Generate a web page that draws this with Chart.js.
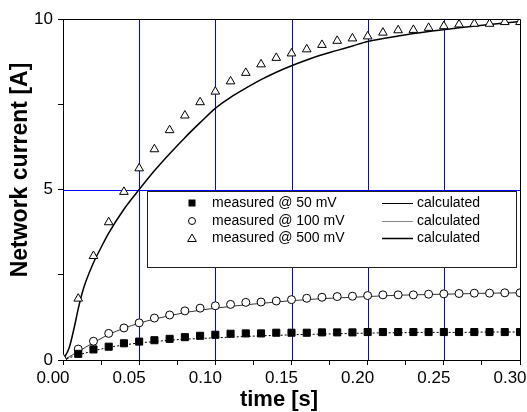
<!DOCTYPE html>
<html>
<head>
<meta charset="utf-8">
<script src="https://cdn.jsdelivr.net/npm/chart.js@4/dist/chart.umd.min.js"></script>
<style>
  html, body { margin: 0; padding: 0; background: #fff; }
  #wrap { width: 527px; height: 412px; position: relative; }
</style>
</head>
<body>
<div id="wrap"><canvas id="currentChart"></canvas></div>
<script>
// measured sample times [s]
const timeMeasured = [0.00, 0.01, 0.02, 0.03, 0.04, 0.05, 0.06, 0.07, 0.08, 0.09, 0.10,
    0.11, 0.12, 0.13, 0.14, 0.15, 0.16, 0.17, 0.18, 0.19, 0.20,
    0.21, 0.22, 0.23, 0.24, 0.25, 0.26, 0.27, 0.28, 0.29, 0.30];

const measured50 = [null, 0.18, 0.31, 0.39, 0.49, 0.54, 0.58, 0.62, 0.67, 0.71, 0.74,
    0.77, 0.78, 0.78, 0.80, 0.80, 0.80, 0.81, 0.81, 0.81, 0.82,
    0.82, 0.82, 0.82, 0.82, 0.82, 0.82, 0.82, 0.82, 0.82, 0.82];

const measured100 = [null, 0.32, 0.55, 0.78, 0.94, 1.09, 1.23, 1.32, 1.44, 1.52, 1.59,
    1.63, 1.69, 1.70, 1.73, 1.77, 1.81, 1.84, 1.86, 1.87, 1.89,
    1.91, 1.91, 1.91, 1.93, 1.94, 1.95, 1.96, 1.96, 1.97, 1.97];

const measured500 = [0.05, 1.80, 3.05, 4.04, 4.93, 5.62, 6.18, 6.74, 7.17, 7.56, 7.87,
    8.17, 8.42, 8.67, 8.86, 8.99, 9.11, 9.24, 9.36, 9.43, 9.49,
    9.60, 9.67, 9.68, 9.74, 9.79, 9.84, 9.86, 9.86, 9.91, 9.91];

// calculated curves
const timeCalc = [0, 0.004, 0.007, 0.010, 0.0125, 0.015, 0.020, 0.025, 0.030, 0.040, 0.050,
    0.060, 0.070, 0.080, 0.090, 0.100, 0.110, 0.120, 0.130, 0.140, 0.150,
    0.160, 0.170, 0.180, 0.190, 0.200, 0.220, 0.240, 0.260, 0.280, 0.300];

const calc50 = [0, 0.06, 0.11, 0.15, 0.18, 0.21, 0.27, 0.32, 0.37, 0.44, 0.50,
    0.54, 0.58, 0.61, 0.63, 0.65, 0.67, 0.69, 0.71, 0.72, 0.74,
    0.75, 0.76, 0.77, 0.78, 0.79, 0.80, 0.81, 0.81, 0.82, 0.82];

const calc100 = [0, 0.09, 0.17, 0.24, 0.31, 0.38, 0.51, 0.63, 0.75, 0.93, 1.08,
    1.20, 1.30, 1.39, 1.46, 1.52, 1.57, 1.62, 1.66, 1.70, 1.74,
    1.77, 1.80, 1.82, 1.84, 1.86, 1.90, 1.92, 1.94, 1.96, 1.97];

const calc500 = [0, 0.35, 0.88, 1.50, 1.95, 2.30, 2.85, 3.30, 3.72, 4.42, 5.00,
    5.55, 6.05, 6.52, 6.96, 7.38, 7.70, 7.97, 8.22, 8.44, 8.63,
    8.80, 8.95, 9.08, 9.21, 9.34, 9.50, 9.63, 9.74, 9.84, 9.93];

const xGridValues = [0.05, 0.10, 0.15, 0.20, 0.25];
const yGridValues = [5];

const legendRows = ['measured @ 50 mV', 'measured @ 100 mV', 'measured @ 500 mV'];
const xTitle = 'time [s]';
const yTitle = 'Network current [A]';

const FONT = '"Liberation Sans", Arial, sans-serif';
const BLUE = '#0000ff';

function pts(xs, ys) {
    return xs.map((x, i) => ({ x: x, y: ys[i] }));
}

function isMajor(v, step) {
    const q = v / step;
    return Math.abs(q - Math.round(q)) < 1e-6;
}

const framePlugin = {
    id: 'frame',
    beforeDatasetsDraw(chart) {
        const { ctx, chartArea: a, scales } = chart;
        ctx.save();
        ctx.strokeStyle = BLUE;
        ctx.lineWidth = 1;
        ctx.beginPath();
        xGridValues.forEach(v => {
            const px = Math.round(scales.x.getPixelForValue(v)) + 0.5;
            ctx.moveTo(px, a.top);
            ctx.lineTo(px, a.bottom);
        });
        yGridValues.forEach(v => {
            const py = Math.round(scales.y.getPixelForValue(v)) + 0.5;
            ctx.moveTo(a.left, py);
            ctx.lineTo(a.right, py);
        });
        ctx.stroke();
        ctx.restore();
    },
    afterDatasetsDraw(chart) {
        const { ctx, chartArea: a } = chart;
        ctx.save();
        ctx.strokeStyle = '#000';
        ctx.lineWidth = 1;
        ctx.beginPath();
        ctx.moveTo(Math.round(a.left) + 0.5, Math.round(a.top) + 0.5);
        ctx.lineTo(Math.round(a.right) + 0.5, Math.round(a.top) + 0.5);
        ctx.lineTo(Math.round(a.right) + 0.5, Math.round(a.bottom) + 0.5);
        ctx.stroke();

        // legend box
        ctx.fillStyle = '#fff';
        ctx.fillRect(147.5, 191.5, 369, 76);
        ctx.strokeStyle = '#222';
        ctx.strokeRect(147.5, 191.5, 369, 76);

        const rows = [203, 221, 238];
        ctx.font = '14px ' + FONT;
        ctx.textBaseline = 'middle';
        ctx.textAlign = 'left';
        rows.forEach((y, i) => {
            ctx.fillStyle = '#000';
            ctx.fillText(legendRows[i], 212, y);
            ctx.fillText('calculated', 417, y);
        });
        // symbols
        ctx.fillStyle = '#000';
        ctx.fillRect(188.5, rows[0] - 3.5, 7, 7);
        ctx.lineWidth = 1;
        ctx.strokeStyle = '#000';
        ctx.beginPath();
        ctx.arc(192, rows[1], 3.5, 0, Math.PI * 2);
        ctx.stroke();
        ctx.beginPath();
        const r = 5, cy = rows[2] + 1;
        ctx.moveTo(192, cy - r);
        ctx.lineTo(192 + r * 0.866, cy + r * 0.5);
        ctx.lineTo(192 - r * 0.866, cy + r * 0.5);
        ctx.closePath();
        ctx.stroke();
        // line samples
        const lineStyles = [['#000', 1], ['#888', 1], ['#000', 1.5]];
        rows.forEach((y, i) => {
            ctx.strokeStyle = lineStyles[i][0];
            ctx.lineWidth = lineStyles[i][1];
            ctx.beginPath();
            ctx.moveTo(382, y + 0.5);
            ctx.lineTo(413, y + 0.5);
            ctx.stroke();
        });
        ctx.restore();
    },
    afterDraw(chart) {
        const { ctx } = chart;
        ctx.save();
        ctx.fillStyle = '#000';
        ctx.font = 'bold 22px ' + FONT;
        ctx.textAlign = 'center';
        ctx.textBaseline = 'alphabetic';
        ctx.fillText(xTitle, 279, 406);
        ctx.translate(27, 170);
        ctx.rotate(-Math.PI / 2);
        ctx.font = 'bold 23px ' + FONT;
        ctx.fillText(yTitle, 0, 0);
        ctx.restore();
    }
};

const measuredStyle = {
    showLine: false,
    borderColor: '#000',
    pointBorderColor: '#000',
    pointBorderWidth: 1,
    clip: 0
};

const lineStyle = {
    showLine: true,
    pointRadius: 0,
    fill: false,
    cubicInterpolationMode: 'monotone'
};

new Chart(document.getElementById('currentChart'), {
    type: 'scatter',
    data: {
        datasets: [
            Object.assign({ label: 'measured @ 50 mV', data: pts(timeMeasured, measured50),
                pointStyle: 'rect', pointRadius: 5, pointBackgroundColor: '#000' }, measuredStyle),
            Object.assign({ label: 'measured @ 100 mV', data: pts(timeMeasured, measured100),
                pointStyle: 'circle', pointRadius: 4, pointBackgroundColor: '#fff' }, measuredStyle),
            Object.assign({ label: 'measured @ 500 mV', data: pts(timeMeasured, measured500),
                pointStyle: 'triangle', pointRadius: 5, pointBackgroundColor: '#fff' }, measuredStyle),
            Object.assign({ label: 'calculated 50', data: pts(timeCalc, calc50),
                borderColor: '#000', borderWidth: 1, borderDash: [2, 2] }, lineStyle),
            Object.assign({ label: 'calculated 100', data: pts(timeCalc, calc100),
                borderColor: '#333', borderWidth: 1 }, lineStyle),
            Object.assign({ label: 'calculated 500', data: pts(timeCalc, calc500),
                borderColor: '#000', borderWidth: 1.5 }, lineStyle)
        ]
    },
    options: {
        responsive: true,
        maintainAspectRatio: false,
        animation: false,
        devicePixelRatio: 1,
        layout: { padding: { top: 19, right: 7, left: 0, bottom: 0 } },
        plugins: {
            legend: { display: false },
            tooltip: { enabled: false },
            title: { display: false }
        },
        scales: {
            x: {
                type: 'linear',
                min: 0,
                max: 0.3,
                border: { display: true, color: '#000', width: 1 },
                grid: {
                    drawOnChartArea: false,
                    color: '#000',
                    tickColor: '#000',
                    tickLength: 5
                },
                ticks: {
                    stepSize: 0.025,
                    autoSkip: false,
                    maxRotation: 0,
                    padding: 3,
                    labelOffset: -10,
                    color: '#000',
                    font: { family: FONT, size: 17 },
                    callback: v => isMajor(v, 0.05) ? v.toFixed(2) : ''
                },
                afterFit: s => {
                    s.height = 52;
                    s.paddingLeft = 0; s.paddingRight = 0;
                }
            },
            y: {
                type: 'linear',
                min: 0,
                max: 10,
                border: { display: true, color: '#000', width: 1 },
                grid: {
                    drawOnChartArea: false,
                    color: '#000',
                    tickColor: '#000',
                    tickLength: 5
                },
                ticks: {
                    stepSize: 2.5,
                    autoSkip: false,
                    padding: 5,
                    color: '#000',
                    font: { family: FONT, size: 17 },
                    callback: v => isMajor(v, 5) ? String(v) : ''
                },
                afterFit: s => {
                    s.width = 63;
                    s.paddingTop = 0; s.paddingBottom = 0;
                }
            }
        }
    },
    plugins: [framePlugin]
});
</script>
</body>
</html>
